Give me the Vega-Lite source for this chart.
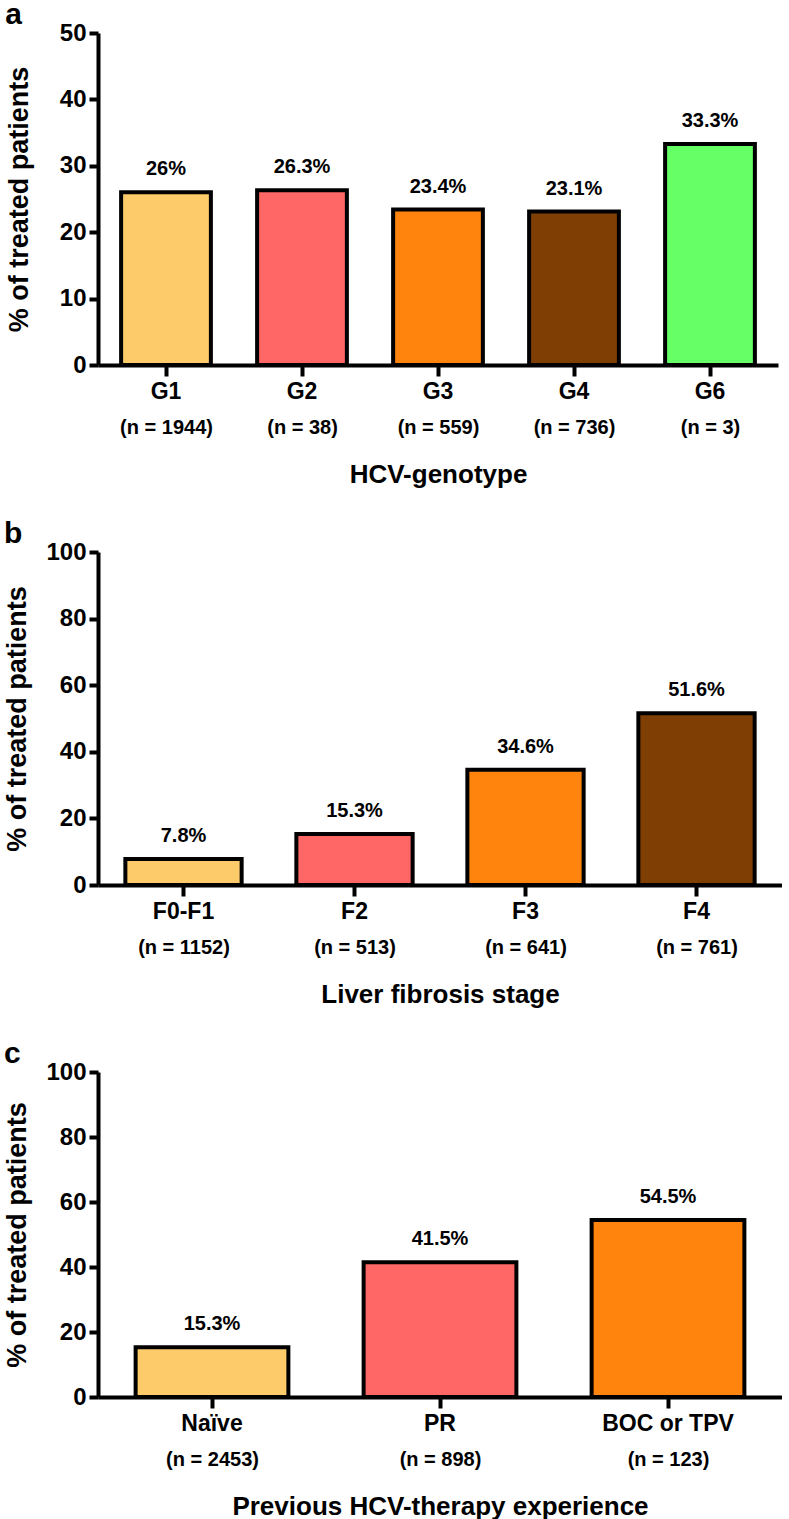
{
  "$schema": "https://vega.github.io/schema/vega-lite/v6.json",
  "background": "white",
  "padding": {"left": 3, "top": 0, "right": 0, "bottom": 0},
  "config": {
    "view": {"stroke": null},
    "font": "Liberation Sans",
    "axis": {"labelFont": "Liberation Sans", "labelFontWeight": "bold", "titleFont": "Liberation Sans", "titleFontWeight": "bold", "labelColor": "black", "titleColor": "black", "domainColor": "black", "tickColor": "black", "domainWidth": 4, "tickWidth": 4, "grid": false},
    "title": {"font": "Liberation Sans", "fontWeight": "bold", "fontSize": 30, "anchor": "start", "frame": "bounds", "color": "black", "offset": -9},
    "concat": {"spacing": 32}
  },
  "resolve": {"scale": {"color": "independent"}},
  "datasets": {
    "geno": [
      {"cat": "G1", "n": "(n = 1944)", "v": 26, "lab": "26%"},
      {"cat": "G2", "n": "(n = 38)", "v": 26.3, "lab": "26.3%"},
      {"cat": "G3", "n": "(n = 559)", "v": 23.4, "lab": "23.4%"},
      {"cat": "G4", "n": "(n = 736)", "v": 23.1, "lab": "23.1%"},
      {"cat": "G6", "n": "(n = 3)", "v": 33.3, "lab": "33.3%"}
    ],
    "fib": [
      {"cat": "F0-F1", "n": "(n = 1152)", "v": 7.8, "lab": "7.8%"},
      {"cat": "F2", "n": "(n = 513)", "v": 15.3, "lab": "15.3%"},
      {"cat": "F3", "n": "(n = 641)", "v": 34.6, "lab": "34.6%"},
      {"cat": "F4", "n": "(n = 761)", "v": 51.6, "lab": "51.6%"}
    ],
    "prev": [
      {"cat": "Naïve", "n": "(n = 2453)", "v": 15.3, "lab": "15.3%"},
      {"cat": "PR", "n": "(n = 898)", "v": 41.5, "lab": "41.5%"},
      {"cat": "BOC or TPV", "n": "(n = 123)", "v": 54.5, "lab": "54.5%"}
    ]
  },
  "vconcat": [
    {
      "title": {"text": "a"},
      "width": 680, "height": 332,
      "data": {"name": "geno"},
      "resolve": {"scale": {"x": "independent"}},
      "layer": [
        {
          "mark": {"type": "bar", "stroke": "black", "strokeWidth": 4},
          "encoding": {
            "x": {"field": "cat", "type": "nominal", "sort": null, "scale": {"paddingInner": 0.34, "paddingOuter": 0.17},
                  "axis": {"orient": "bottom", "title": null, "labelFontSize": 23, "tickSize": 11, "labelPadding": 4, "labelAngle": 0}},
            "y": {"field": "v", "type": "quantitative", "scale": {"domain": [0, 50]},
                  "axis": {"title": "% of treated patients", "values": [0, 10, 20, 30, 40, 50], "labelFontSize": 24, "tickSize": 9, "labelPadding": 3, "titleFontSize": 27, "titlePadding": 26}},
            "color": {"field": "cat", "type": "nominal", "legend": null,
                      "scale": {"domain": ["G1", "G2", "G3", "G4", "G6"], "range": ["#FECB6A", "#FF6767", "#FF840E", "#7F3F04", "#66FF66"]}}
          }
        },
        {
          "mark": {"type": "text", "baseline": "alphabetic", "dy": -17, "fontSize": 20, "fontWeight": "bold", "font": "Liberation Sans", "color": "black"},
          "encoding": {
            "x": {"field": "cat", "type": "nominal", "sort": null, "scale": {"paddingInner": 0.34, "paddingOuter": 0.17}, "axis": null},
            "y": {"field": "v", "type": "quantitative"},
            "text": {"field": "lab"}
          }
        },
        {
          "mark": {"type": "text"},
          "encoding": {
            "x": {"field": "n", "type": "nominal", "sort": null, "scale": {"paddingInner": 0.34, "paddingOuter": 0.17},
                  "axis": {"orient": "bottom", "title": "HCV-genotype", "domain": false, "ticks": false, "tickSize": 0, "labelPadding": 52, "labelFontSize": 20, "labelAngle": 0, "titleFontSize": 26, "titlePadding": 24}},
            "text": {"value": ""}
          }
        }
      ]
    },
    {
      "title": {"text": "b"},
      "width": 684, "height": 333,
      "data": {"name": "fib"},
      "resolve": {"scale": {"x": "independent"}},
      "layer": [
        {
          "mark": {"type": "bar", "stroke": "black", "strokeWidth": 4},
          "encoding": {
            "x": {"field": "cat", "type": "nominal", "sort": null, "scale": {"paddingInner": 0.32, "paddingOuter": 0.16},
                  "axis": {"orient": "bottom", "title": null, "labelFontSize": 23, "tickSize": 11, "labelPadding": 4, "labelAngle": 0}},
            "y": {"field": "v", "type": "quantitative", "scale": {"domain": [0, 100]},
                  "axis": {"title": "% of treated patients", "values": [0, 20, 40, 60, 80, 100], "labelFontSize": 24, "tickSize": 9, "labelPadding": 3, "titleFontSize": 27, "titlePadding": 14}},
            "color": {"field": "cat", "type": "nominal", "legend": null,
                      "scale": {"domain": ["F0-F1", "F2", "F3", "F4"], "range": ["#FECB6A", "#FF6767", "#FF840E", "#7F3F04"]}}
          }
        },
        {
          "mark": {"type": "text", "baseline": "alphabetic", "dy": -17, "fontSize": 20, "fontWeight": "bold", "font": "Liberation Sans", "color": "black"},
          "encoding": {
            "x": {"field": "cat", "type": "nominal", "sort": null, "scale": {"paddingInner": 0.32, "paddingOuter": 0.16}, "axis": null},
            "y": {"field": "v", "type": "quantitative"},
            "text": {"field": "lab"}
          }
        },
        {
          "mark": {"type": "text"},
          "encoding": {
            "x": {"field": "n", "type": "nominal", "sort": null, "scale": {"paddingInner": 0.32, "paddingOuter": 0.16},
                  "axis": {"orient": "bottom", "title": "Liver fibrosis stage", "domain": false, "ticks": false, "tickSize": 0, "labelPadding": 52, "labelFontSize": 20, "labelAngle": 0, "titleFontSize": 26, "titlePadding": 24}},
            "text": {"value": ""}
          }
        }
      ]
    },
    {
      "title": {"text": "c"},
      "width": 684, "height": 325,
      "data": {"name": "prev"},
      "resolve": {"scale": {"x": "independent"}},
      "layer": [
        {
          "mark": {"type": "bar", "stroke": "black", "strokeWidth": 4},
          "encoding": {
            "x": {"field": "cat", "type": "nominal", "sort": null, "scale": {"paddingInner": 0.33, "paddingOuter": 0.165},
                  "axis": {"orient": "bottom", "title": null, "labelFontSize": 23, "tickSize": 11, "labelPadding": 4, "labelAngle": 0}},
            "y": {"field": "v", "type": "quantitative", "scale": {"domain": [0, 100]},
                  "axis": {"title": "% of treated patients", "values": [0, 20, 40, 60, 80, 100], "labelFontSize": 24, "tickSize": 9, "labelPadding": 3, "titleFontSize": 27, "titlePadding": 14}},
            "color": {"field": "cat", "type": "nominal", "legend": null,
                      "scale": {"domain": ["Naïve", "PR", "BOC or TPV"], "range": ["#FECB6A", "#FF6767", "#FF840E"]}}
          }
        },
        {
          "mark": {"type": "text", "baseline": "alphabetic", "dy": -17, "fontSize": 20, "fontWeight": "bold", "font": "Liberation Sans", "color": "black"},
          "encoding": {
            "x": {"field": "cat", "type": "nominal", "sort": null, "scale": {"paddingInner": 0.33, "paddingOuter": 0.165}, "axis": null},
            "y": {"field": "v", "type": "quantitative"},
            "text": {"field": "lab"}
          }
        },
        {
          "mark": {"type": "text"},
          "encoding": {
            "x": {"field": "n", "type": "nominal", "sort": null, "scale": {"paddingInner": 0.33, "paddingOuter": 0.165},
                  "axis": {"orient": "bottom", "title": "Previous HCV-therapy experience", "domain": false, "ticks": false, "tickSize": 0, "labelPadding": 52, "labelFontSize": 20, "labelAngle": 0, "titleFontSize": 26, "titlePadding": 24}},
            "text": {"value": ""}
          }
        }
      ]
    }
  ]
}
